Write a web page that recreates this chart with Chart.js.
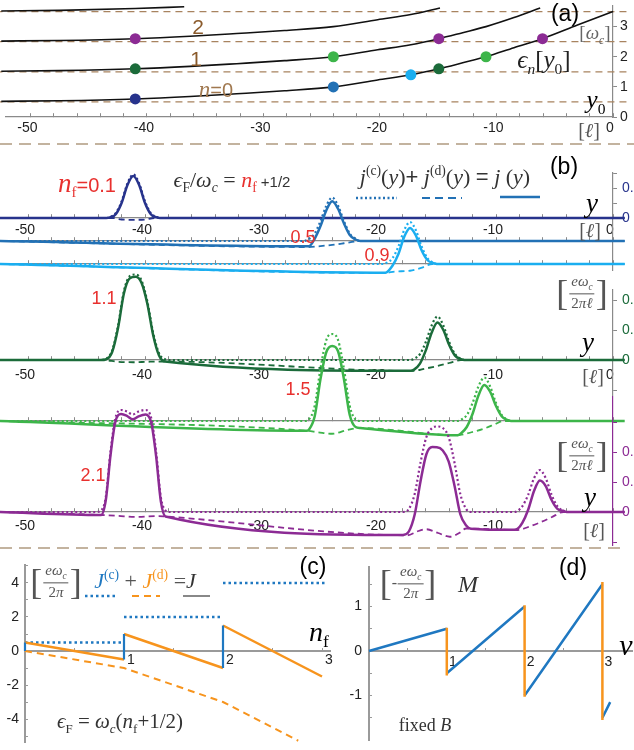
<!DOCTYPE html>
<html>
<head>
<meta charset="utf-8">
<script src="https://cdn.jsdelivr.net/npm/chart.js@4.4.1/dist/chart.umd.min.js"></script>
<style>
  html, body { margin: 0; padding: 0; background: #fff; }
  #fig { position: relative; width: 634px; height: 750px; overflow: hidden; background: #fff; }
  #fig canvas, #fig svg { position: absolute; }
  .t { position: absolute; transform: translate(-50%, -50%); white-space: nowrap; line-height: 1; z-index: 5; }
  .m { font-family: 'Liberation Serif', 'DejaVu Serif', serif; }
  .s { font-family: 'Liberation Sans', Arial, sans-serif; font-style: normal; }
  .unit { display: flex; align-items: center; color: #555; font-family: 'Liberation Serif', serif; }
  .unit .bk { font-size: 36px; font-weight: 300; }
  .fr { display: inline-flex; flex-direction: column; align-items: center; font-size: 15px; margin: 0 1px; }
  .fr span:first-child { border-bottom: 1px solid #555; padding: 0 2px 1px; }
  .fr span:last-child { padding-top: 2px; }
  sub, sup { font-size: 62%; font-style: normal; }
</style>
</head>
<body>
<div id="fig"></div>
<script>
// ---- panel (a): Landau bands eps_n(y0) near the edge, in units of w_c
const BAND0 = [[-52.5, 0.52], [-47.5, 0.54], [-41, 0.6], [-36.3, 0.68], [-32.3, 0.77], [-28.2, 0.87], [-24, 1.0], [-20.2, 1.23],
  [-17.35, 1.4], [-14.95, 1.6], [-12.9, 1.8], [-10.9, 2.0], [-8.5, 2.3], [-6.05, 2.6], [-3.05, 3.05], [0, 3.5], [0.8, 3.62]];
const BAND1 = [[-52.5, 1.52], [-47.5, 1.54], [-41, 1.6], [-36.3, 1.68], [-32.3, 1.77], [-28.2, 1.87], [-24, 2.0], [-20.2, 2.23],
  [-17.35, 2.4], [-14.95, 2.6], [-12.9, 2.8], [-10.9, 3.0], [-8.5, 3.3], [-6.25, 3.62]];
const BAND2 = [[-52.5, 2.52], [-47.5, 2.54], [-41, 2.6], [-36.3, 2.68], [-32.3, 2.77], [-28.2, 2.87], [-24, 3.0], [-20.2, 3.23],
  [-17.35, 3.4], [-14.85, 3.62]];
const BAND3 = [[-52.5, 3.52], [-47.5, 3.54], [-41, 3.6], [-36.8, 3.66]];
const LEVELS = [0.5, 1.5, 2.5, 3.5];
const LEVEL_SPAN = [-53, 1.5];

const DOT_01 = [[-41, 0.6]];
const DOT_05 = [[-24, 1.0]];
const DOT_09 = [[-17.35, 1.4]];
const DOT_11 = [[-41, 1.6], [-14.95, 1.6]];
const DOT_15 = [[-24, 2.0], [-10.9, 2.0]];
const DOT_21 = [[-41, 2.6], [-14.95, 2.6], [-6.05, 2.6]];

// ---- panel (b): current densities j(c) dotted, j(d) dashed, j solid [e w_c / 2 pi l]
const JC_01 = [[-52.5, 0], [-43.3, 0], [-43, 0.006], [-42.5, 0.033], [-42, 0.11], [-41.5, 0.23], [-41, 0.29], [-40.5, 0.23],
  [-40, 0.11], [-39.5, 0.033], [-39, 0.006], [-38.7, 0], [1, 0]];
const JD_01 = [[-52.5, 0], [-42.8, 0], [-42, -0.01], [-41, -0.012], [-40, -0.01], [-39.2, 0], [1, 0]];
const J_01 = [[-52.5, 0], [-43.3, 0], [-43, 0.004], [-42.5, 0.025], [-42, 0.1], [-41.5, 0.22], [-41, 0.28], [-40.5, 0.22],
  [-40, 0.1], [-39.5, 0.025], [-39, 0.004], [-38.7, 0], [1, 0]];

const JC_05 = [[-52.5, 0], [-26.4, 0], [-26, 0.013], [-25.5, 0.05], [-25, 0.133], [-24.5, 0.235], [-24, 0.29], [-23.5, 0.235],
  [-23, 0.133], [-22.5, 0.05], [-22, 0.013], [-21.6, 0], [1, 0]];
const JD_05 = [[-52.5, 0], [-26, -0.04], [-25, -0.034], [-24, -0.026], [-23, -0.015], [-22, -0.003], [-21.6, 0], [1, 0]];
const J_05 = [[-52.5, 0], [-26, -0.035], [-25.5, 0.015], [-25, 0.1], [-24.5, 0.205], [-24, 0.265], [-23.5, 0.215],
  [-23, 0.118], [-22.5, 0.04], [-22, 0.01], [-21.6, 0], [1, 0]];

const JC_09 = [[-52.5, 0], [-19.65, 0], [-19.35, 0.008], [-18.85, 0.038], [-18.35, 0.115], [-17.85, 0.225], [-17.35, 0.28],
  [-16.85, 0.225], [-16.35, 0.115], [-15.85, 0.038], [-15.35, 0.008], [-15.05, 0], [1, 0]];
const JD_09 = [[-52.5, 0], [-19.45, -0.06], [-18.65, -0.05], [-17.35, -0.045], [-16.25, -0.022], [-15.45, 0], [1, 0]];
const J_09 = [[-52.5, 0], [-19.45, -0.058], [-18.85, -0.012], [-18.35, 0.065], [-17.85, 0.18], [-17.35, 0.24], [-16.85, 0.19],
  [-16.35, 0.09], [-15.85, 0.025], [-15.35, 0.006], [-15.05, 0], [1, 0]];

const JC_11 = [[-52.5, 0], [-43.8, 0], [-43.3, 0.01], [-42.8, 0.065], [-42.3, 0.23], [-41.8, 0.46], [-41.3, 0.56], [-40.8, 0.57],
  [-40.3, 0.53], [-39.8, 0.39], [-39.3, 0.18], [-38.8, 0.045], [-38.3, 0.005], [-38, 0], [-17.3, 0], [-17, 0.008],
  [-16.5, 0.039], [-16, 0.12], [-15.5, 0.23], [-15, 0.29], [-14.5, 0.23], [-14, 0.12], [-13.5, 0.039], [-13, 0.008],
  [-12.7, 0], [1, 0]];
const JD_11 = [[-52.5, 0], [-43.6, 0], [-42.3, -0.012], [-41, -0.015], [-39.8, -0.012], [-38.5, -0.01], [-17.1, -0.073],
  [-16.1, -0.058], [-15, -0.04], [-14, -0.02], [-13, 0], [1, 0]];
const J_11 = [[-52.5, 0], [-43.8, 0], [-43.3, 0.005], [-42.8, 0.055], [-42.3, 0.215], [-41.8, 0.445], [-41.3, 0.545],
  [-40.8, 0.555], [-40.3, 0.515], [-39.8, 0.375], [-39.3, 0.165], [-38.8, 0.03], [-38.3, -0.01], [-17.3, -0.072],
  [-17, -0.064], [-16.5, -0.024], [-16, 0.064], [-15.5, 0.182], [-15, 0.25], [-14.5, 0.2], [-14, 0.1], [-13.5, 0.029],
  [-13, 0.006], [-12.7, 0], [1, 0]];

const JC_15 = [[-52.5, 0], [-26.4, 0], [-26, 0.01], [-25.5, 0.1], [-25, 0.35], [-24.5, 0.54], [-24, 0.58], [-23.5, 0.54],
  [-23, 0.35], [-22.5, 0.1], [-22, 0.01], [-21.6, 0], [-13.3, 0], [-13, 0.008], [-12.5, 0.039], [-12, 0.12],
  [-11.5, 0.23], [-11, 0.29], [-10.5, 0.23], [-10, 0.12], [-9.5, 0.039], [-9, 0.008], [-8.7, 0], [1, 0]];
const JD_15 = [[-52.5, 0], [-26.2, -0.065], [-25.2, -0.075], [-24, -0.085], [-22.7, -0.06], [-21.7, -0.047], [-13.3, -0.095],
  [-12.1, -0.075], [-11, -0.05], [-10.1, -0.022], [-9.4, 0], [1, 0]];
const J_15 = [[-52.5, 0], [-26.2, -0.065], [-26, -0.058], [-25.5, 0.03], [-25, 0.28], [-24.5, 0.46], [-24, 0.5],
  [-23.5, 0.465], [-23, 0.28], [-22.5, 0.04], [-22, -0.04], [-21.6, -0.047], [-13.3, -0.095], [-13, -0.083],
  [-12.5, -0.04], [-12, 0.048], [-11.5, 0.17], [-11, 0.24], [-10.5, 0.195], [-10, 0.1], [-9.5, 0.03],
  [-9, 0.006], [-8.7, 0], [1, 0]];

const JC_21 = [[-52.5, 0], [-44.15, 0], [-43.75, 0.01], [-43.35, 0.1], [-42.95, 0.4], [-42.55, 0.62], [-42.05, 0.68],
  [-41.55, 0.67], [-41.05, 0.65], [-40.55, 0.67], [-39.95, 0.68], [-39.45, 0.62], [-39.05, 0.4], [-38.65, 0.1],
  [-38.25, 0.01], [-37.95, 0], [-17.95, 0], [-17.45, 0.02], [-16.95, 0.12], [-16.45, 0.33], [-15.95, 0.5], [-15.45, 0.56],
  [-15.05, 0.57], [-14.55, 0.56], [-14.05, 0.5], [-13.55, 0.33], [-13.05, 0.12], [-12.55, 0.02], [-12.15, 0], [-8.45, 0],
  [-8.15, 0.008], [-7.75, 0.038], [-7.25, 0.115], [-6.75, 0.225], [-6.25, 0.28], [-5.75, 0.225], [-5.25, 0.115],
  [-4.75, 0.038], [-4.25, 0.008], [-3.95, 0], [1, 0]];
const JD_21 = [[-52.5, 0], [-43.75, -0.02], [-42.35, -0.025], [-40.85, -0.033], [-38.85, -0.027], [-38.25, -0.03],
  [-17.55, -0.155], [-16.75, -0.13], [-15.95, -0.115], [-14.95, -0.14], [-13.95, -0.165], [-13.15, -0.14], [-12.55, -0.11],
  [-8.15, -0.12], [-7.25, -0.1], [-6.25, -0.07], [-5.25, -0.035], [-4.25, 0], [1, 0]];
const J_21 = [[-52.5, 0], [-43.75, -0.02], [-43.35, 0.08], [-42.95, 0.377], [-42.55, 0.595], [-42.05, 0.653], [-41.55, 0.641],
  [-41.05, 0.618], [-40.55, 0.638], [-39.95, 0.65], [-39.45, 0.59], [-39.05, 0.372], [-38.65, 0.073], [-38.25, -0.03],
  [-17.95, -0.153], [-17.45, -0.13], [-16.95, -0.017], [-16.45, 0.205], [-15.95, 0.385], [-15.45, 0.433], [-15.05, 0.432],
  [-14.55, 0.41], [-14.05, 0.338], [-13.55, 0.177], [-13.05, -0.015], [-12.55, -0.09], [-12.15, -0.111], [-8.45, -0.119],
  [-8.15, -0.112], [-7.75, -0.073], [-7.25, 0.015], [-6.75, 0.14], [-6.25, 0.21], [-5.75, 0.173], [-5.25, 0.08],
  [-4.75, 0.021], [-4.25, 0.008], [-3.95, 0], [1, 0]];

// ---- panel (c): total currents vs n_f [e w_c / 2 pi]
const NF_JC = [[0, 0.5], [1, 0.5], [1, null], [1, 2], [2, 2], [2, null], [2, 4], [3.05, 4]];
const NF_JD = [[0, 0], [1, -1], [2, -3], [2.76, -5.28]];
const NF_J = [[0, 0.5], [1, -0.5], [1, null], [1, 1], [2, -1], [2, null], [2, 1.5], [3, -1.5]];
const NF_JUMP = [[0, 0], [0, 0.5], [0, null], [1, -0.5], [1, 1], [1, null], [2, -1], [2, 1.5]];

// ---- panel (d): magnetization vs filling nu at fixed B [-e w_c / 2 pi]
const NU_M = [[0, 0], [1, 0.5], [1, null], [1, -0.5], [2, 1], [2, null], [2, -1], [3, 1.5], [3, null], [3, -1.5], [3.1, -1.15]];
const NU_JUMP = [[1, 0.52], [1, -0.55], [1, null], [2, 1.03], [2, -1.03], [2, null], [3, 1.55], [3, -1.55]];

// ---- ticks
const Y_TICKS = [-50, -48, -46, -44, -42, -40, -38, -36, -34, -32, -30, -28, -26, -24, -22, -20, -18, -16, -14, -12, -10, -8, -6, -4, -2, 0];
const Y_LABELS = [-50, -40, -30, -20, -10, 0];
const Y_LABELS_NO0 = [-50, -40, -30, -20, -10];
const EN_TICKS = [0, 1, 2, 3];
const J01_TICKS = [0, 0.1, 0.2, 0.3];
const J01_LABELS = [0, 0.2];
const J11_TICKS = [-0.2, 0, 0.2, 0.4];
const J11_LABELS = [0, 0.2, 0.4];
const J21_TICKS = [-0.2, 0, 0.2, 0.4, 0.6];
const J21_LABELS = [0, 0.2, 0.4];
const NF_TICKS = [0.5, 1, 1.5, 2, 2.5, 3];
const NF_LABELS = [1, 2, 3];
const C_TICKS = [-5, -4, -3, -2, -1, 0, 1, 2, 3, 4, 5];
const C_LABELS = [-4, -2, 0, 2, 4];
const D_TICKS = [-1.5, -1, -0.5, 0, 0.5, 1, 1.5];
const D_LABELS = [-1, 0, 1];

const NAVY = '#27338c', BLUE = '#2271b5', LBLUE = '#1aaef0', DGREEN = '#1b6b3a', LGREEN = '#3db54a', PURPLE = '#8c2b94';
const ORANGE = '#f7941d', CBLUE = '#1f78c1', RED = '#e8302e', BROWN = '#a8835f', GRAY = '#8a8a8a';

const fig = document.getElementById('fig');
Chart.defaults.font.family = "'Liberation Sans', Arial, sans-serif";
Chart.defaults.font.size = 14;
Chart.defaults.color = '#222';

const noPad = s => { s.paddingLeft = s.paddingRight = s.paddingTop = s.paddingBottom = 0; };

function addCanvas(left, top, w, h) {
  const c = document.createElement('canvas');
  c.width = w; c.height = h;
  c.style.cssText = `left:${left}px;top:${top}px;width:${w}px;height:${h}px`;
  fig.appendChild(c);
  return c;
}

function line(pts, color, width, dash, smooth = true) {
  return {
    data: pts.map(([x, y]) => ({ x, y })),
    borderColor: color, borderWidth: width, borderDash: dash || [],
    pointRadius: 0, fill: false, clip: false, spanGaps: false,
    cubicInterpolationMode: smooth ? 'monotone' : 'default', tension: 0
  };
}

function dots(pts, color) {
  return {
    data: pts.map(([x, y]) => ({ x, y })), showLine: false, clip: false,
    pointRadius: 5.5, pointBackgroundColor: color, pointBorderWidth: 0, borderColor: color
  };
}

function xAxis(min, max, ticks, labels, o = {}) {
  return {
    type: 'linear', min, max, position: { y: 0 },
    afterBuildTicks: s => { s.ticks = ticks.map(value => ({ value })); },
    afterFit: noPad,
    grid: { display: true, drawOnChartArea: false, tickLength: -4, color: o.color || GRAY },
    border: { color: o.color || GRAY, width: o.width || 1.2 },
    ticks: {
      autoSkip: false, maxRotation: 0, padding: o.pad ?? 7, labelOffset: o.offset || 0,
      callback: v => labels.includes(v) ? String(v) : ''
    }
  };
}

function yAxis(min, max, ticks, labels, o) {
  return {
    type: 'linear', min, max, position: o.side,
    afterBuildTicks: s => { s.ticks = ticks.map(value => ({ value })); },
    afterFit: s => { noPad(s); s.width = o.w; },
    grid: { display: true, drawOnChartArea: false, tickLength: o.tl, color: o.line },
    border: { color: o.line, width: o.width || 1.2 },
    ticks: { autoSkip: false, padding: o.pad, color: o.text || '#222', callback: v => labels.includes(v) ? String(v) : '' }
  };
}

function plot(canvas, datasets, x, y, pad) {
  return new Chart(canvas, {
    type: 'line',
    data: { datasets },
    options: {
      responsive: false, animation: false, events: [],
      layout: { padding: pad },
      plugins: { legend: { display: false }, tooltip: { enabled: false } },
      scales: { x, y }
    }
  });
}

// shared horizontal mapping of panels (a) and (b): x = 0 sits at 613 px, 11.7 px per l
const X_MIN = -610 / 11.7, X_MAX = 0;

// (a)
plot(addCanvas(0, 0, 634, 145), [
  dots(DOT_01, NAVY), dots(DOT_05, BLUE), dots(DOT_09, LBLUE),
  dots(DOT_11, DGREEN), dots(DOT_15, LGREEN), dots(DOT_21, PURPLE),
  line(BAND0, '#111', 1.6), line(BAND1, '#111', 1.6), line(BAND2, '#111', 1.6), line(BAND3, '#111', 1.6),
  ...LEVELS.map(l => line(LEVEL_SPAN.map(x => [x, l]), BROWN, 1.3, [7, 5], false))
], xAxis(X_MIN, X_MAX, Y_TICKS, Y_LABELS, { pad: 6.6, offset: -3 }),
  yAxis(0, 114 / 30.8, EN_TICKS, EN_TICKS, { side: 'right', w: 21, tl: 4, pad: 3, line: GRAY }),
  { left: 3, right: 0, top: 3, bottom: 28 });

// (b): one transparent chart per filling, stacked at its own baseline (150 px per unit)
const PX = 150;
const groups = [
  { j: J_01, jc: JC_01, jd: JD_01, c: NAVY, top: 160, h: 130, area: [173, 270], base: 218,
    labels: Y_LABELS, lpad: 7.6, y: { ticks: J01_TICKS, labels: J01_LABELS, line: GRAY, text: NAVY } },
  { j: J_05, jc: JC_05, jd: JD_05, c: BLUE, top: 185, h: 80, area: [195, 250], base: 241, labels: [] },
  { j: J_09, jc: JC_09, jd: JD_09, c: LBLUE, top: 205, h: 80, area: [215, 275], base: 264, labels: [] },
  { j: J_11, jc: JC_11, jd: JD_11, c: DGREEN, top: 262, h: 143, area: [290, 395], base: 360,
    labels: Y_LABELS, lpad: 10.6, y: { ticks: J11_TICKS, labels: J11_LABELS, line: GRAY, text: DGREEN } },
  { j: J_15, jc: JC_15, jd: JD_15, c: LGREEN, top: 320, h: 130, area: [330, 440], base: 421, labels: [] },
  { j: J_21, jc: JC_21, jd: JD_21, c: PURPLE, top: 390, h: 165, area: [397, 545], base: 512,
    labels: Y_LABELS_NO0, lpad: 9.6, y: { ticks: J21_TICKS, labels: J21_LABELS, line: PURPLE, text: PURPLE } }
];

groups.forEach(g => {
  const yMax = (g.base - g.area[0]) / PX, yMin = -(g.area[1] - g.base) / PX;
  const pad = { left: 3, top: g.area[0] - g.top, bottom: g.top + g.h - g.area[1], right: g.y ? 0 : 21 };
  const y = g.y
    ? yAxis(yMin, yMax, g.y.ticks, g.y.labels, { side: 'right', w: 21, tl: 4, pad: 5, line: g.y.line, text: g.y.text })
    : { type: 'linear', min: yMin, max: yMax, display: false };
  plot(addCanvas(0, g.top, 634, g.h), [
    line(g.j, g.c, 2.5),
    line(g.jd, g.c, 1.8, [6, 4]),
    line(g.jc, g.c, 2.2, [2, 2.5])
  ], xAxis(X_MIN, X_MAX, Y_TICKS, g.labels, { pad: g.lpad ?? 7, offset: -3 }), y, pad);
});

// (c)
plot(addCanvas(0, 555, 340, 195), [
  line(NF_JUMP, CBLUE, 2.2, [], false),
  line(NF_J, ORANGE, 2.5, [], false),
  line(NF_JD, ORANGE, 2, [7, 5], false),
  line(NF_JC, CBLUE, 2.5, [2.5, 3], false)
], xAxis(0, 305 / 99, NF_TICKS, NF_LABELS, { pad: 4.6, offset: 7, color: '#9a9a9a', width: 2 }),
  yAxis(-91 / 17, 86 / 17, C_TICKS, C_LABELS, { side: 'left', w: 25, tl: -3, pad: 9, line: '#9a9a9a', width: 2 }),
  { left: 0, right: 10, top: 10, bottom: 8 });

// (d)
plot(addCanvas(330, 555, 304, 195), [
  line(NU_JUMP, ORANGE, 2.5, [], false),
  line(NU_M, CBLUE, 2.5, [], false)
], xAxis(0, 263 / 77.8, NF_TICKS, NF_LABELS, { pad: 6.6, offset: 6, color: '#9a9a9a', width: 2 }),
  yAxis(-89 / 44.5, 84 / 44.5, D_TICKS, D_LABELS, { side: 'left', w: 39, tl: -3, pad: 10, line: '#9a9a9a', width: 2 }),
  { left: 0, right: 2, top: 12, bottom: 10 });

// separators and legend swatches
fig.insertAdjacentHTML('beforeend', `
<svg width="634" height="750" style="left:0;top:0;z-index:4">
  <g stroke="#b09a80" stroke-width="1.6" stroke-dasharray="12 7">
    <line x1="0" y1="144" x2="634" y2="144"/><line x1="0" y1="548" x2="626" y2="548"/>
  </g>
  <line x1="356" y1="198" x2="397" y2="198" stroke="${BLUE}" stroke-width="2.5" stroke-dasharray="2 2.5"/>
  <line x1="422" y1="198" x2="462" y2="198" stroke="${BLUE}" stroke-width="2" stroke-dasharray="8 5"/>
  <line x1="500" y1="197" x2="540" y2="197" stroke="${BLUE}" stroke-width="2.5"/>
  <line x1="85" y1="596" x2="115" y2="596" stroke="${CBLUE}" stroke-width="2.5" stroke-dasharray="2.5 3"/>
  <line x1="132" y1="596" x2="160" y2="596" stroke="${ORANGE}" stroke-width="2" stroke-dasharray="7 5"/>
  <line x1="183" y1="596" x2="210" y2="596" stroke="#888" stroke-width="2"/>
</svg>`);

function txt(html, x, y, cls, css = '') {
  fig.insertAdjacentHTML('beforeend', `<div class="t ${cls}" style="left:${x}px;top:${y}px;${css}">${html}</div>`);
}
const unit = (den, pre = '') =>
  `<div class="unit"><span class="bk">[</span>${pre}<span class="fr"><span><i>e</i><i>ω</i><sub><i>c</i></sub></span><span>${den}</span></span><span class="bk">]</span></div>`;

// (a) labels
txt('2', 198, 26, 's', 'color:#8a5a2b;font-size:21px');
txt('1', 196, 58, 's', 'color:#8a5a2b;font-size:21px');
txt('<i class="m" style="font-size:23px">n</i>=0', 216, 89, 's', 'color:#a0784f;font-size:20px');
txt('(a)', 565, 13, 's', 'font-size:23px');
txt('[<i>ω</i><sub><i>c</i></sub>]', 595, 35, 'm', 'font-size:19px;color:#666');
txt('<i>ϵ</i><sub><i>n</i></sub>[<i>y</i><sub>0</sub>]', 544, 62, 'm', 'font-size:25px;color:#222');
txt('<i>y</i><sub>0</sub>', 596, 102, 'm', 'font-size:25px');
txt('[<i>ℓ</i>]', 589, 130, 'm', 'font-size:20px;color:#555');

// (b) labels
txt('<i class="m" style="font-size:27px">n</i><sub class="m" style="font-size:15px">f</sub>=0.1', 87, 185, 's', `color:${RED};font-size:20px`);
txt(`<i>ϵ</i><sub>F</sub>/<i>ω</i><sub><i>c</i></sub> = <span style="color:${RED}"><i>n</i><sub>f</sub></span><span class="s" style="font-size:15px"> +1/2</span>`, 232, 182, 'm', 'font-size:22px;color:#333');
txt('<i>j</i><sup>(c)</sup>(<i>y</i>)<span class="s">+</span> <i>j</i><sup>(d)</sup>(<i>y</i>) <span class="s">=</span> <i>j</i> (<i>y</i>)', 445, 176, 'm', 'font-size:22px;color:#333');
txt('(b)', 564, 166, 's', 'font-size:23px');
txt('<i>y</i>', 592, 203, 'm', 'font-size:27px');
txt('<i>y</i>', 588, 342, 'm', 'font-size:27px');
txt('<i>y</i>', 590, 497, 'm', 'font-size:27px');
txt('[<i>ℓ</i>]', 590, 230, 'm', 'font-size:20px;color:#555');
txt('[<i>ℓ</i>]', 593, 376, 'm', 'font-size:20px;color:#555');
txt('[<i>ℓ</i>]', 594, 530, 'm', 'font-size:20px;color:#555');
txt(unit('2<i>π</i><i>ℓ</i>'), 582, 293, '');
txt(unit('2<i>π</i><i>ℓ</i>'), 582, 455, '');
[['0.5', 303, 237], ['0.9', 377, 255], ['1.1', 104, 298], ['1.5', 298, 389], ['2.1', 93, 475]]
  .forEach(([s, x, y]) => txt(s, x, y, 's', `color:${RED};font-size:18px`));

// (c) labels
txt(unit('2<i>π</i>'), 56, 582, '');
txt(`<i style="color:${CBLUE}">J</i><sup style="color:${CBLUE}">(c)</sup><span style="color:#555"> + </span><i style="color:${ORANGE}">J</i><sup style="color:${ORANGE}">(d)</sup><span style="color:#555"> =</span><i>J</i>`, 145, 580, 'm', 'font-size:22px;color:#333');
txt('<i>ϵ</i><sub>F</sub> = <i>ω</i><sub><i>c</i></sub>(<i>n</i><sub>f</sub>+1/2)', 120, 723, 'm', 'font-size:21px;color:#333');
txt('<i>n</i><sub>f</sub>', 319, 634, 'm', 'font-size:28px');
txt('(c)', 313, 566, 's', 'font-size:23px');

// (d) labels
txt(unit('2<i>π</i>', '-'), 408, 583, '');
txt('<i>M</i>', 468, 584, 'm', 'font-size:24px;color:#333');
txt('(d)', 573, 567, 's', 'font-size:23px');
txt('<i>ν</i>', 626, 645, 'm', 'font-size:30px');
txt('fixed <i>B</i>', 425, 725, 'm', 'font-size:18px;color:#333');
</script>
</body>
</html>
